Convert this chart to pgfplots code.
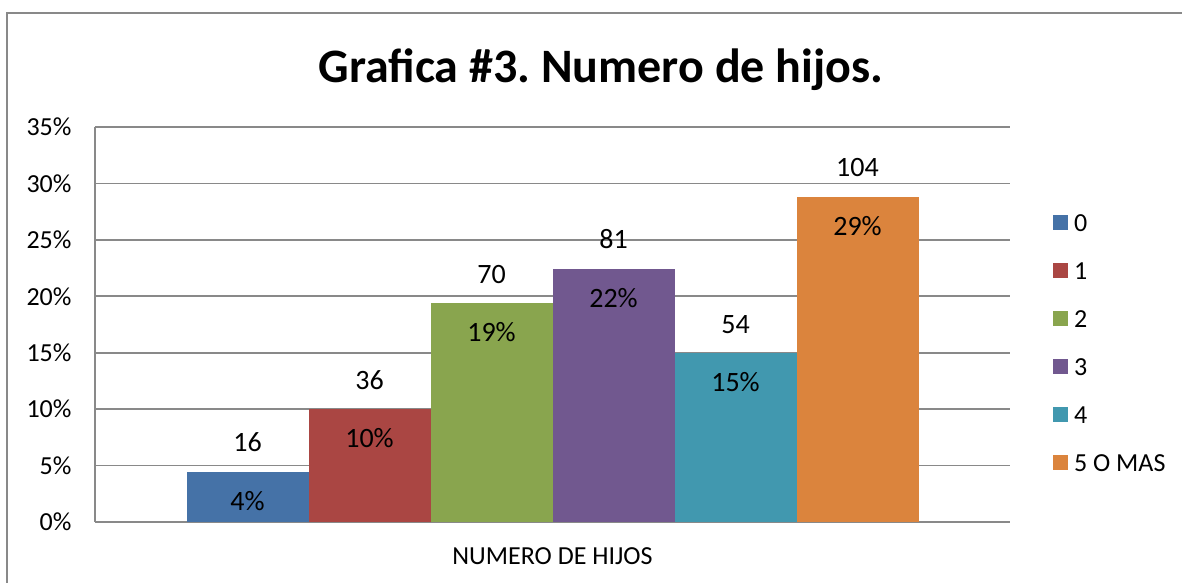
\documentclass[border=0pt]{standalone}
\usepackage{fontspec}
\setmainfont{Carlito}
\usepackage{pgfplots}
\pgfplotsset{compat=1.18}
\definecolor{c0}{HTML}{4572A7}
\definecolor{c1}{HTML}{AA4643}
\definecolor{c2}{HTML}{89A54E}
\definecolor{c3}{HTML}{71588F}
\definecolor{c4}{HTML}{4198AF}
\definecolor{c5}{HTML}{DB843D}
\definecolor{gridc}{HTML}{898989}
\frenchspacing
\begin{document}
\begin{tikzpicture}[x=1bp,y=1bp]
\useasboundingbox (0,0) rectangle (1182,583);
\draw[gridc, line width=2bp] (7,-20) rectangle (1195,570);
\node[font=\fontsize{48bp}{56bp}\selectfont\bfseries, anchor=base] at (601,500) {Grafica \#3. Numero de hijos.};
\begin{axis}[
  at={(95bp,61bp)}, anchor=south west,
  scale only axis, width=915bp, height=395bp,
  xmin=-1, xmax=1, ymin=0, ymax=35,
  ybar=0pt, bar width=122bp,
  axis x line*=bottom, axis y line*=left,
  axis line style={gridc, line width=2bp, -},
  ymajorgrids, grid style={gridc, line width=1.6bp},
  ytick={0,5,...,35},
  yticklabel={\pgfmathprintnumber{\tick}\%},
  xtick={0}, xticklabels={NUMERO DE HIJOS},
  major tick length=0pt,
  tick label style={font=\fontsize{26bp}{31bp}\selectfont, text=black},
  yticklabel style={xshift=-20bp},
  xticklabel style={yshift=-22bp},
  /pgf/number format/assume math mode=true,
  visualization depends on={value \thisrow{n}\as\cnt},
  visualization depends on={value \thisrow{p}\as\pct},
  nodes near coords={\makebox[0pt]{\smash{\raisebox{20bp}{\cnt}}}\makebox[0pt]{\smash{\raisebox{-38.5bp}{\pct\%}}}},
  every node near coord/.append style={anchor=center, inner sep=0pt, font=\fontsize{28bp}{33bp}\selectfont, text=black},
  legend style={at={(1.047,0.782)}, anchor=north west, draw=none, fill=none,
    font=\fontsize{26bp}{31bp}\selectfont, row sep=25bp, column sep=0pt, inner sep=0pt,
    nodes={inner sep=0pt, text height=18bp, text depth=5bp, font=\fontsize{26bp}{31bp}\selectfont}},
  legend cell align=left,
  legend image code/.code={\fill[#1, draw=none] (0bp,-5.5bp) rectangle (15bp,9.5bp);},
]
\addplot[fill=c0, draw=none] table[x=x,y=y,row sep=\\] {x y n p\\ 0 4.432 16 4\\};
\addplot[fill=c1, draw=none] table[x=x,y=y,row sep=\\] {x y n p\\ 0 9.972 36 10\\};
\addplot[fill=c2, draw=none] table[x=x,y=y,row sep=\\] {x y n p\\ 0 19.391 70 19\\};
\addplot[fill=c3, draw=none] table[x=x,y=y,row sep=\\] {x y n p\\ 0 22.438 81 22\\};
\addplot[fill=c4, draw=none] table[x=x,y=y,row sep=\\] {x y n p\\ 0 14.958 54 15\\};
\addplot[fill=c5, draw=none] table[x=x,y=y,row sep=\\] {x y n p\\ 0 28.809 104 29\\};
\legend{\ 0,\ 1,\ 2,\ 3,\ 4,\ 5 O MAS}
\end{axis}
\end{tikzpicture}
\end{document}
